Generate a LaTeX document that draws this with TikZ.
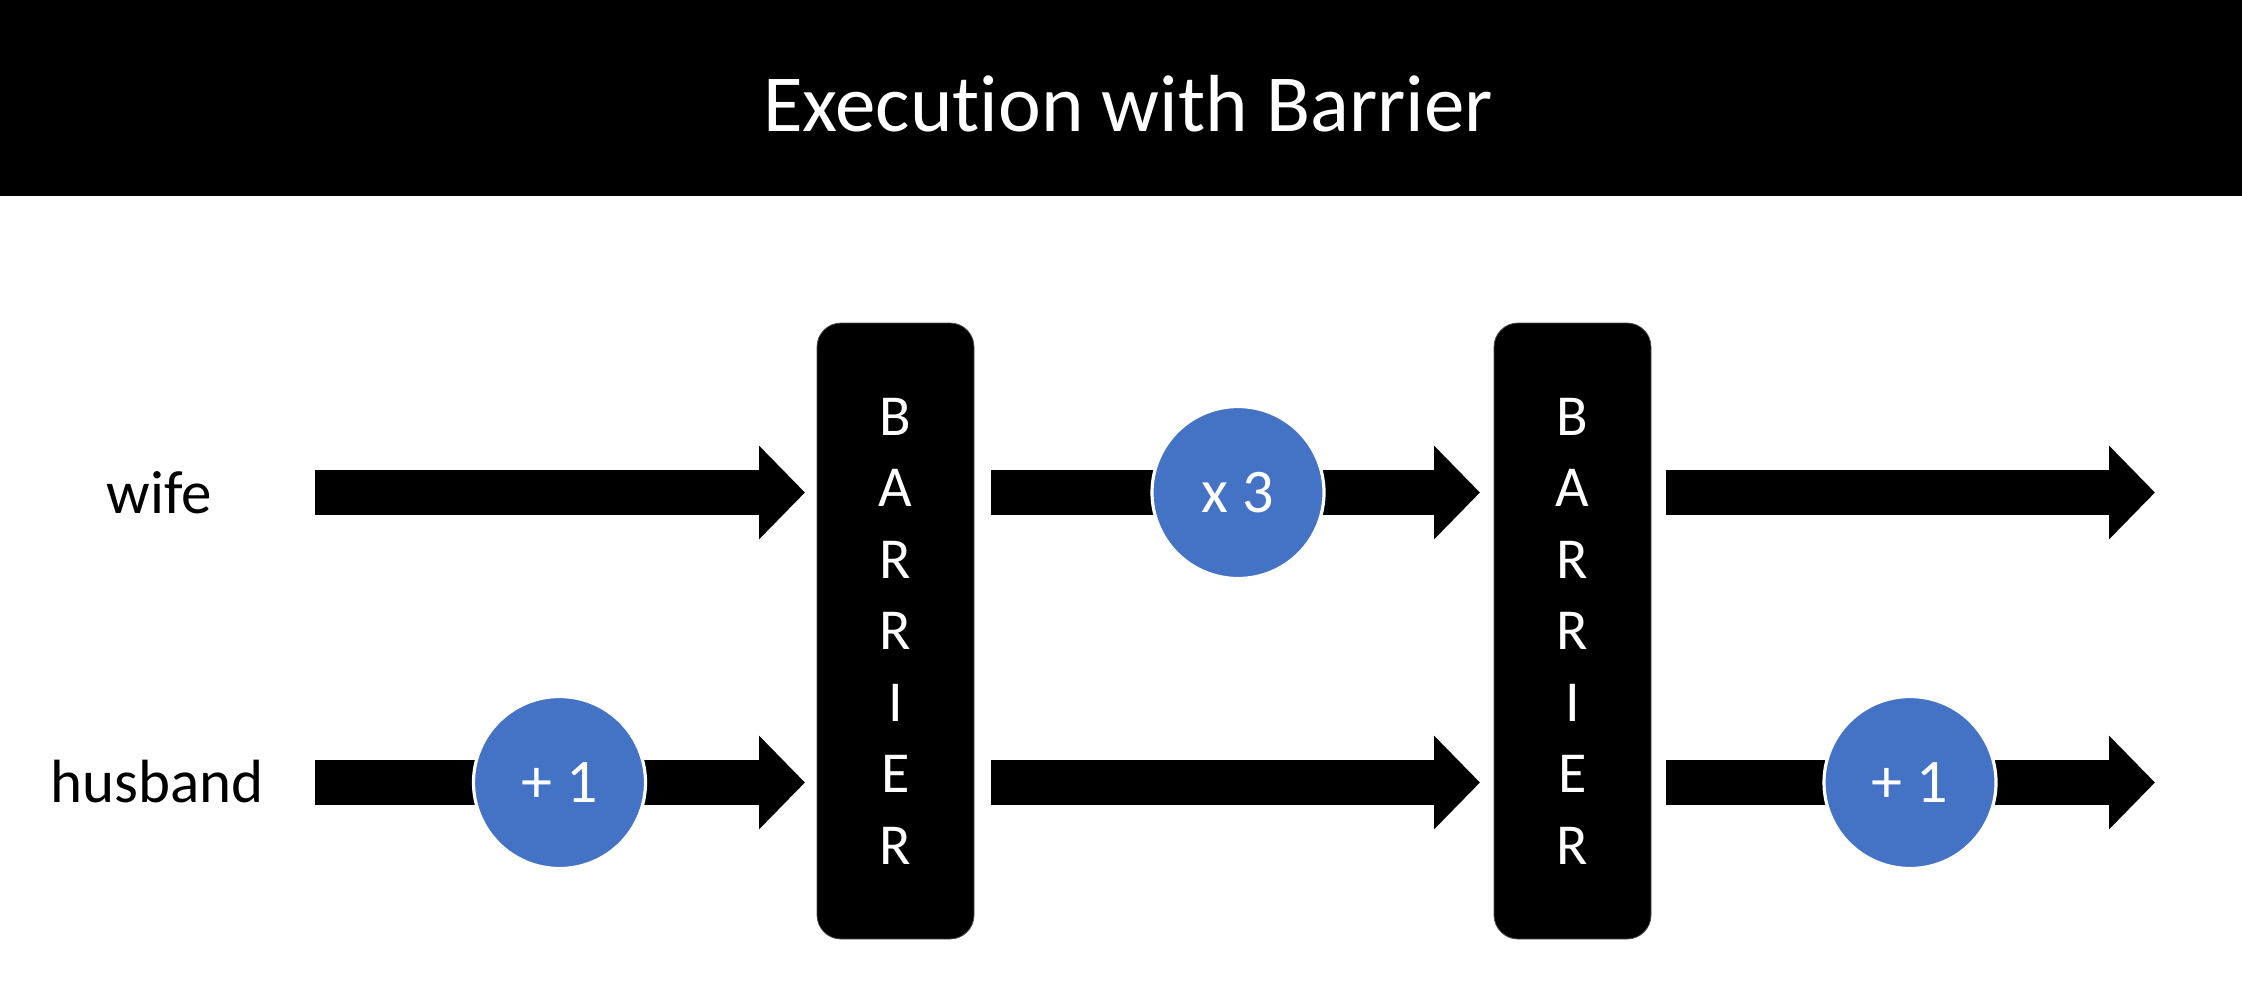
\documentclass[tikz,border=0pt]{standalone}
\usepackage{fontspec}
\setmainfont{Carlito}[Ligatures={NoCommon}]
\usetikzlibrary{arrows.meta}
\definecolor{opblue}{HTML}{4472C4}
\begin{document}
\begin{tikzpicture}[x=0.5pt,y=-0.5pt,
  blockarrow/.style={line width=22.5pt,-{Triangle[length=23pt,width=45.5pt]}},
  barrierbox/.style={fill=black,draw=black!70,line width=0.4pt,rounded corners=12pt,
    minimum width=78.5pt,minimum height=308pt,inner sep=0pt,text=white,align=center,
    font=\fontsize{29}{35.75}\selectfont},
  opcircle/.style={circle,fill=opblue,draw=white,line width=1.6pt,minimum size=86pt,
    inner sep=0pt,text=white,font=\fontsize{31}{36}\selectfont},
  rowlabel/.style={font=\fontsize{30.5}{36}\selectfont},
  titletext/.style={text=white,font=\fontsize{40.5}{48}\selectfont}]
\useasboundingbox (0,0) rectangle (2242,998);
\fill[black] (0,0) rectangle (2242,196);
\node[titletext] (title) at (1128,104) {Execution with Barrier};
% row labels
\node[rowlabel] (wife) at (159,493) {wife};
\node[rowlabel] (husband) at (157,782) {husband};
% barriers
\node[barrierbox] (bar1) at (895.5,631) {B\\A\\R\\R\\I\\E\\R};
\node[barrierbox] (bar2) at (1572.5,631) {B\\A\\R\\R\\I\\E\\R};
% arrow end points
\coordinate (w1s) at (315,492.5); \coordinate (w1e) at (805,492.5);
\coordinate (w2s) at (991,492.5); \coordinate (w2e) at (1480,492.5);
\coordinate (w3s) at (1666,492.5); \coordinate (w3e) at (2155,492.5);
\coordinate (h1s) at (315,782.5); \coordinate (h1e) at (805,782.5);
\coordinate (h2s) at (991,782.5); \coordinate (h2e) at (1480,782.5);
\coordinate (h3s) at (1666,782.5); \coordinate (h3e) at (2155,782.5);
\draw[blockarrow] (w1s) -- (w1e);
\draw[blockarrow] (w2s) -- (w2e);
\draw[blockarrow] (w3s) -- (w3e);
\draw[blockarrow] (h1s) -- (h1e);
\draw[blockarrow] (h2s) -- (h2e);
\draw[blockarrow] (h3s) -- (h3e);
% operation circles
\node[opcircle] (times3) at (1238,492.5) {x 3};
\node[opcircle] (plus1a) at (559.5,782.5) {+ 1};
\node[opcircle] (plus1b) at (1910,782.5) {+ 1};
\end{tikzpicture}
\end{document}
